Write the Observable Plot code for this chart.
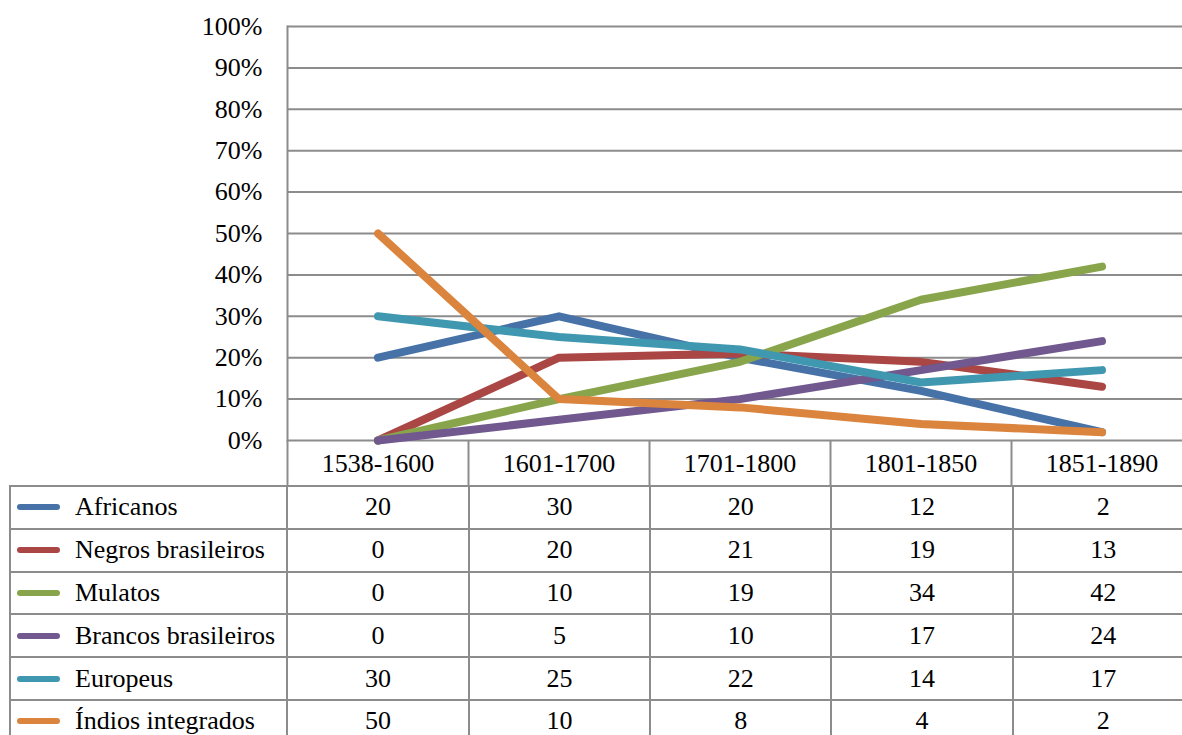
<!DOCTYPE html>
<html><head><meta charset="utf-8">
<script src="https://cdn.jsdelivr.net/npm/d3@7"></script>
<script src="https://cdn.jsdelivr.net/npm/@observablehq/plot@0.6"></script>
<style>
html,body{margin:0;padding:0;background:#fff;}
body{width:1182px;height:735px;overflow:hidden;position:relative;font-family:'Liberation Serif';}
#chart{position:absolute;left:0;top:0;}
#tbl{position:absolute;left:9px;top:485px;width:1200px;}
table{border-collapse:collapse;table-layout:fixed;width:1186px;color:#000;}
td{border:2px solid #8c8c8c;height:40.8px;padding:0;text-align:center;vertical-align:middle;line-height:26px;}
td.name{text-align:left;white-space:nowrap;}
.sw{display:inline-block;width:43px;height:6px;border-radius:3px;margin-left:6px;margin-right:15px;vertical-align:middle;position:relative;top:-2px;}
</style></head>
<body>
<div id="chart"></div>
<div id="tbl"></div>
<script>
const categories = ["1538-1600","1601-1700","1701-1800","1801-1850","1851-1890"];
const seriesNames = ["Africanos","Negros brasileiros","Mulatos","Brancos brasileiros","Europeus","Índios integrados"];
const seriesColors = ["#4672a8","#aa4644","#89a54c","#71588f","#3f98b0","#db843d"];
const africanos = [20,30,20,12,2];
const negrosBrasileiros = [0,20,21,19,13];
const mulatos = [0,10,19,34,42];
const brancosBrasileiros = [0,5,10,17,24];
const europeus = [30,25,22,14,17];
const indiosIntegrados = [50,10,8,4,2];
const yTicks = [0,10,20,30,40,50,60,70,80,90,100];

const FONT = "Liberation Serif";
const seriesValues = [africanos,negrosBrasileiros,mulatos,brancosBrasileiros,europeus,indiosIntegrados];
const rows = [];
seriesNames.forEach((s,i)=>seriesValues[i].forEach((v,j)=>rows.push({series:s,cat:categories[j],v:v/100})));

const grid = "#8c8c8c";
const chart = Plot.plot({
  width:1182, height:486,
  marginTop:26, marginBottom:46, marginLeft:287, marginRight:0,
  x:{type:"band", domain:categories, range:[287,1192], padding:0},
  y:{domain:[0,1], range:[440,26]},
  color:{domain:seriesNames, range:seriesColors},
  style:{fontFamily:FONT, fontSize:"26px", color:"#000", background:"#fff"},
  marks:[
    Plot.gridY(yTicks.map(d=>d/100), {stroke:grid, strokeOpacity:1, strokeWidth:2}),
    Plot.frame({anchor:"left", stroke:grid, strokeWidth:2}),
    Plot.axisY(yTicks.map(d=>d/100), {tickSize:0, tickPadding:25, tickFormat:d=>Math.round(d*100)+"%", fontSize:26, fontFamily:FONT, fill:"#000", label:null}),
    Plot.axisX({tickSize:46, text:null, dx:-90.5, stroke:grid, strokeWidth:2, strokeOpacity:1, label:null}),
    Plot.axisX({tickSize:0, tickPadding:13, fontSize:26, fontFamily:FONT, fill:"#000", label:null}),
    Plot.line(rows, {x:"cat", y:"v", z:"series", stroke:"series", strokeWidth:8, strokeLinecap:"round", strokeLinejoin:"round"})
  ]
});
document.getElementById("chart").appendChild(chart);

const table = document.createElement("table");
const cg = document.createElement("colgroup");
[277,181,181,181,181,181].forEach(w=>{const c=document.createElement("col");c.style.width=w+"px";cg.appendChild(c);});
table.appendChild(cg);
seriesNames.forEach((s,i)=>{
  const tr = document.createElement("tr");
  const th = document.createElement("td");
  th.className = "name";
  th.style.fontFamily = FONT; th.style.fontSize = "26px";
  th.innerHTML = `<span class="sw" style="background:${seriesColors[i]}"></span>${s}`;
  tr.appendChild(th);
  seriesValues[i].forEach(v=>{
    const td = document.createElement("td");
    td.style.fontFamily = FONT; td.style.fontSize = "26px";
    td.textContent = v;
    tr.appendChild(td);
  });
  table.appendChild(tr);
});
document.getElementById("tbl").appendChild(table);
</script>
</body></html>
